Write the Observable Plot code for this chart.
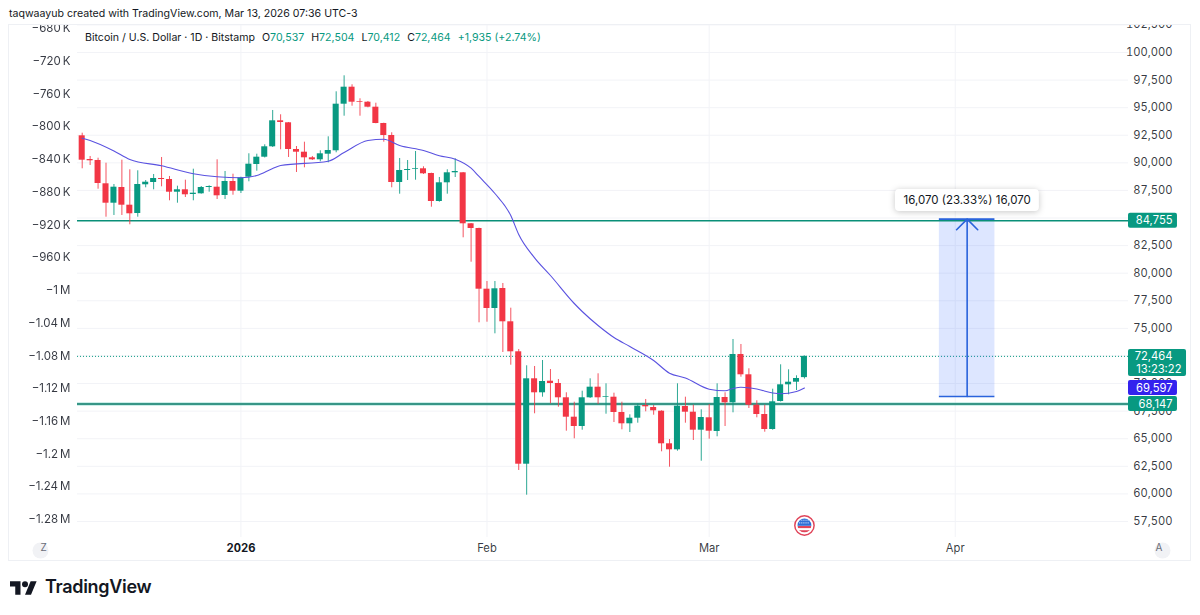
<!DOCTYPE html>
<html><head><meta charset="utf-8">
<script src="https://cdn.jsdelivr.net/npm/d3@7"></script>
<script src="https://cdn.jsdelivr.net/npm/@observablehq/plot@0.6"></script>
<style>
html,body{margin:0;padding:0;background:#fff;width:1200px;height:615px;overflow:hidden;font-family:Inter,"Liberation Sans",sans-serif;color:#131722}
#title{height:24px;line-height:28px;padding-left:9px;font-size:10.6px;box-sizing:border-box;white-space:nowrap}
#wrap{position:relative;margin-left:8px;width:1183px;height:537px;outline:1px solid #eef0f4;outline-offset:-1px}
#wrap svg{display:block}
#legend{position:absolute;left:77px;top:7px;font-size:10.6px;white-space:nowrap}
#legend b{font-weight:400;color:#089981}
#legend span{margin-left:7px}
#foot{height:54px;position:relative}
#foot svg{position:absolute;left:10px;top:17px}
#foot div{position:absolute;left:45px;top:15px;font-size:18px;font-weight:600;letter-spacing:-.3px;color:#131722}
</style></head><body>
<div id="title">taqwaayub created with TradingView.com, Mar 13, 2026 07:36 UTC-3</div>
<div id="wrap"><div id="legend">Bitcoin / U.S. Dollar · 1D · Bitstamp<span>O<b>70,537</b></span><span>H<b>72,504</b></span><span>L<b>70,412</b></span><span>C<b>72,464</b></span><span><b>+1,935 (+2.74%)</b></span></div></div>
<div id="foot"><svg width="27" height="20" viewBox="0 0 36 26"><path fill="#131722" d="M14 22H7V11H0V4h14v18zM28 22h-8l7.5-18h8L28 22z"/><circle fill="#131722" cx="20" cy="8" r="4"/></svg><div>TradingView</div></div>
<script>
const firstDay = Date.UTC(2025, 11, 12);
const dayAt = i => new Date(firstDay + i * 864e5);

const opens = [92451,90303,90213,88101,86343,87766,86162,85410,88011,88219,
88582,88491,87340,87558,87132,87195,87766,87793,87041,88310,
87431,88699,89850,90512,91454,93810,93629,91210,90965,90457,
90276,90784,91092,95315,96855,95532,95496,95043,93566,92478,
88219,89307,89424,89461,89035,86497,88192,89098,89098,84477,
84051,78550,76801,78613,75596,72877,62691,70430,69162,70213,
70005,68709,66951,66108,68709,69670,68736,68763,67377,66352,
66860,68011,67830,67494,64540,63996,67920,67404,65773,66896,
65655,68736,68256,72633,70793,68038,67195,65836,68373,69886,
70122,70537];
const highs = [92687,90575,90421,89968,88038,90240,89370,89279,88400,88944,
90485,88763,87884,88428,89424,87856,87920,90276,89216,88971,
88699,90820,90784,91636,94744,94354,93656,91481,91871,90575,
91092,92360,96438,97888,97073,95804,95559,95405,93593,92723,
90394,90213,91028,89642,89062,88672,89370,90367,89125,84504,
84078,79248,79248,79067,76828,73086,71609,71545,72089,71273,
70367,69162,68310,69307,70430,70883,69977,69126,68310,67168,
68165,68555,68011,67531,64930,69977,68763,68038,67621,68102,
69977,69162,73992,73539,71337,68437,68038,69488,71699,71246,
70702,72504];
const lows = [89461,89760,87612,85075,85229,85229,84386,85075,87739,87558,
87829,86561,86343,86860,86561,87159,87340,86679,86679,87068,
87222,88283,89243,90439,91391,91183,90485,89125,89551,90213,
90095,90004,90911,94227,95133,94227,94988,93539,91871,87739,
87159,88400,88428,88944,85981,86434,87159,88672,83208,80997,
75505,75560,74508,72814,71663,62121,59882,67259,68763,68165,
67857,65682,64993,65773,68645,68102,67223,66470,65809,65564,
66407,67440,67132,63815,62420,63870,66407,64839,62963,64957,
65175,66108,67349,70575,67739,66896,65591,65773,68328,68981,
69370,70412];
const closes = [90240,90186,88129,86343,87793,86162,85383,88038,88246,88582,
88491,87340,87558,87105,87250,87766,87856,87014,88310,87431,
88645,89877,90512,91454,93810,93656,91210,90965,90457,90276,
90820,91119,95315,96855,95496,95469,95043,93566,92478,88219,
89307,89397,89488,89008,86497,88192,89098,89216,84477,84051,
78550,76801,78586,75596,72877,62691,70430,69162,70186,70005,
68709,66951,66108,68709,69670,68709,68799,67377,66352,66860,
67948,67893,67531,64540,63996,67948,67404,65773,66923,65682,
68736,68256,72633,70793,68038,67195,65836,68346,69886,70122,
70458,72464];

const maDays = [0,1,4,6,10,14,17,20,22,24,25,31,33,36,38,40,43,45,47,49,50,52,54,55,57,59,62,63,65,67,69,72,74,76,79,81,82,83,85,87,88,90,91];
const maValues = [92234,92025,91074,90303,89733,89008,88736,88645,88853,89488,89760,90149,90938,92025,92143,91572,91119,90639,90331,89515,88763,87222,85229,83507,81395,79791,77254,76529,75260,74173,73357,72089,70938,70503,69488,69343,69551,69670,69506,69144,69071,69280,69597];

const priceTicks = [57500,60000,62500,65000,67500,70000,72500,75000,77500,80000,82500,85000,87500,90000,92500,95000,97500,100000,102500];
const zTicks = [-680000,-720000,-760000,-800000,-840000,-880000,-920000,-960000,-1000000,-1040000,-1080000,-1120000,-1160000,-1200000,-1240000,-1280000];
const zLabels = ["−680\u2009K","−720\u2009K","−760\u2009K","−800\u2009K","−840\u2009K","−880\u2009K","−920\u2009K","−960\u2009K","−1\u2009M","−1.04\u2009M","−1.08\u2009M","−1.12\u2009M","−1.16\u2009M","−1.2\u2009M","−1.24\u2009M","−1.28\u2009M"];
const levels = [84755, 68147];
const lastPrice = 72464;
const countdown = "13:23:22";
const maLast = 69597;
const rangeLow = 68826, rangeHigh = 84896;
const rangeLabel = "16,070 (23.33%) 16,070";
const yearTick = [new Date(Date.UTC(2026,0,1))];
const monthTicks = [new Date(Date.UTC(2026,1,1)), new Date(Date.UTC(2026,2,1)), new Date(Date.UTC(2026,3,1))];

const GREEN="#089981", RED="#f23645", GRID="#f2f3f7", BLUE="#2962ff";
const candles = opens.map((o,i)=>({date:dayAt(i),i,o,h:highs[i],l:lows[i],c:closes[i],col:closes[i]>=o?GREEN:RED}));
const ma = maDays.map((d,k)=>({date:dayAt(d),v:maValues[k]}));
const zToPrice = d3.scaleLinear([-680000,-1280000],[102175,57680]);
const edge = 131.83, tagEnd = 138, tagEndWide = 139.14, halfTag = 680;
const flagSvg = "data:image/svg+xml," + encodeURIComponent('<svg xmlns="http://www.w3.org/2000/svg" viewBox="0 0 20 20"><circle cx="10" cy="10" r="9.2" fill="#fff" stroke="#e0455a" stroke-width="1.4"/><clipPath id="c"><circle cx="10" cy="10" r="6.6"/></clipPath><g clip-path="url(#c)"><rect width="20" height="20" fill="#fff"/><rect y="10.5" width="20" height="2" fill="#e0455a"/><rect y="14.5" width="20" height="2.2" fill="#e0455a"/><rect x="2" y="2" width="18" height="8.3" fill="#2f6fd6"/><path d="M5 5h9M5 7.5h9" stroke="#cfe0ff" stroke-width="1" stroke-dasharray="1 1"/></g></svg>');

const chart = Plot.plot({
  width:1183, height:537, marginLeft:69, marginRight:63, marginTop:1, marginBottom:24,
  style:{fontFamily:"Inter, sans-serif", fontSize:"11.2px", color:"#131722", background:"transparent", overflow:"hidden"},
  x:{type:"utc", domain:[dayAt(-0.592), dayAt(edge)], axis:null},
  y:{domain:[56049,102446], axis:null},
  marks:[
    Plot.ruleY(priceTicks,{stroke:GRID,strokeWidth:1}),
    Plot.gridX([...yearTick,...monthTicks],{stroke:GRID,strokeOpacity:1,strokeWidth:1}),
    Plot.axisY(priceTicks,{anchor:"right",tickSize:0,tickPadding:0,textAnchor:"end",dx:44,tickFormat:d3.format(","),label:null,fill:"#131722",opacity:.85}),
    Plot.text(zTicks,{y:d=>zToPrice(d),text:(d,i)=>zLabels[i],frameAnchor:"left",textAnchor:"end",dx:-7,fontSize:11.5,fill:"#131722",opacity:.85}),
    Plot.axisX(yearTick,{tickSize:0,tickPadding:7,tickFormat:()=>"2026",fontWeight:700,label:null,fill:"#131722"}),
    Plot.axisX(monthTicks,{tickSize:0,tickPadding:7,tickFormat:d3.utcFormat("%b"),label:null,fill:"#131722",opacity:.85}),
    // last price dotted
    Plot.ruleY([lastPrice],{stroke:GREEN,strokeWidth:1,strokeDasharray:"1 2"}),
    // range box
    Plot.rect([0],{x1:()=>dayAt(108),x2:()=>dayAt(115),y1:()=>rangeLow,y2:()=>rangeHigh,fill:BLUE,fillOpacity:.16}),
    // levels
    Plot.ruleY([levels[1]],{stroke:"#35bba6",strokeWidth:2.5}),
    Plot.ruleY([levels[1]],{stroke:"#3a8a7c",strokeWidth:1.3}),
    Plot.ruleY([levels[0]],{stroke:"#0a8f78",strokeWidth:1.6}),
    Plot.ruleY([rangeLow,rangeHigh],{x1:()=>dayAt(108),x2:()=>dayAt(115),stroke:"#2a63dc",strokeWidth:1.6}),
    Plot.arrow([0],{x:()=>dayAt(111.5),y1:()=>rangeLow,y2:()=>rangeHigh,stroke:"#2a63dc",strokeWidth:1.6,bend:0,headLength:14,headAngle:90}),
    // candles
    Plot.ruleX(candles,{x:"date",y1:"l",y2:"h",stroke:"col",strokeWidth:1,strokeOpacity:.85}),
    Plot.rect(candles,{x1:d=>dayAt(d.i-.38),x2:d=>dayAt(d.i+.38),y1:"o",y2:"c",fill:"col",insetTop:0,insetBottom:0}),
    // moving average
    Plot.line(ma,{x:"date",y:"v",stroke:"#5a52e0",strokeWidth:1.1,curve:"monotone-x"}),
    // tooltip
    Plot.rect([0],{x1:()=>dayAt(102.47),x2:()=>dayAt(120.6),y1:()=>85591,y2:()=>87585,fill:"#fff",rx:4,imageFilter:"drop-shadow(0 1px 3px rgba(0,0,0,.22))"}),
    Plot.text([rangeLabel],{x:()=>dayAt(111.5),y:()=>86588,text:d=>d,fontSize:11.5,fill:"#131722"}),
    // price tags
    Plot.rect(levels,{x1:()=>dayAt(edge),x2:()=>dayAt(tagEnd),y1:d=>d-halfTag,y2:d=>d+halfTag,fill:GREEN,rx:2}),
    Plot.text(levels,{y:d=>d,text:d=>d3.format(",")(d),frameAnchor:"right",textAnchor:"end",dx:44,fill:"#fff"}),
    Plot.rect([maLast],{x1:()=>dayAt(edge),x2:()=>dayAt(tagEnd),y1:d=>d-halfTag,y2:d=>d+halfTag,fill:"#3322ee",rx:2}),
    Plot.text([maLast],{y:d=>d,text:d=>d3.format(",")(d),frameAnchor:"right",textAnchor:"end",dx:44,fill:"#fff"}),
    Plot.rect([lastPrice],{x1:()=>dayAt(edge),x2:()=>dayAt(tagEndWide),y1:d=>d-1820,y2:d=>d+620,fill:GREEN,rx:2}),
    Plot.text([lastPrice],{y:d=>d,text:d=>d3.format(",")(d),frameAnchor:"right",textAnchor:"end",dx:44,fill:"#fff"}),
    Plot.text([countdown],{y:()=>lastPrice-1180,text:d=>d,frameAnchor:"right",textAnchor:"end",dx:53,fill:"#fff"}),
    // economic event flag
    Plot.image([0],{x:()=>dayAt(91),y:()=>57137,src:()=>flagSvg,width:21,height:21}),
    // Z / A buttons
    Plot.dot([0],{frameAnchor:"bottom-left",dx:-37,dy:13,r:8,fill:"#f1f2f5"}),
    Plot.text(["Z"],{frameAnchor:"bottom-left",dx:-37,dy:13,fontSize:10,fill:"#6a6d78",text:d=>d}),
    Plot.dot([0],{frameAnchor:"bottom-right",dx:34,dy:13,r:8,fill:"#f1f2f5"}),
    Plot.text(["A"],{frameAnchor:"bottom-right",dx:34,dy:13,fontSize:10,fill:"#6a6d78",text:d=>d})
  ]
});
const wrap = document.getElementById("wrap");
wrap.insertBefore(chart, wrap.firstChild);
</script>
</body></html>
